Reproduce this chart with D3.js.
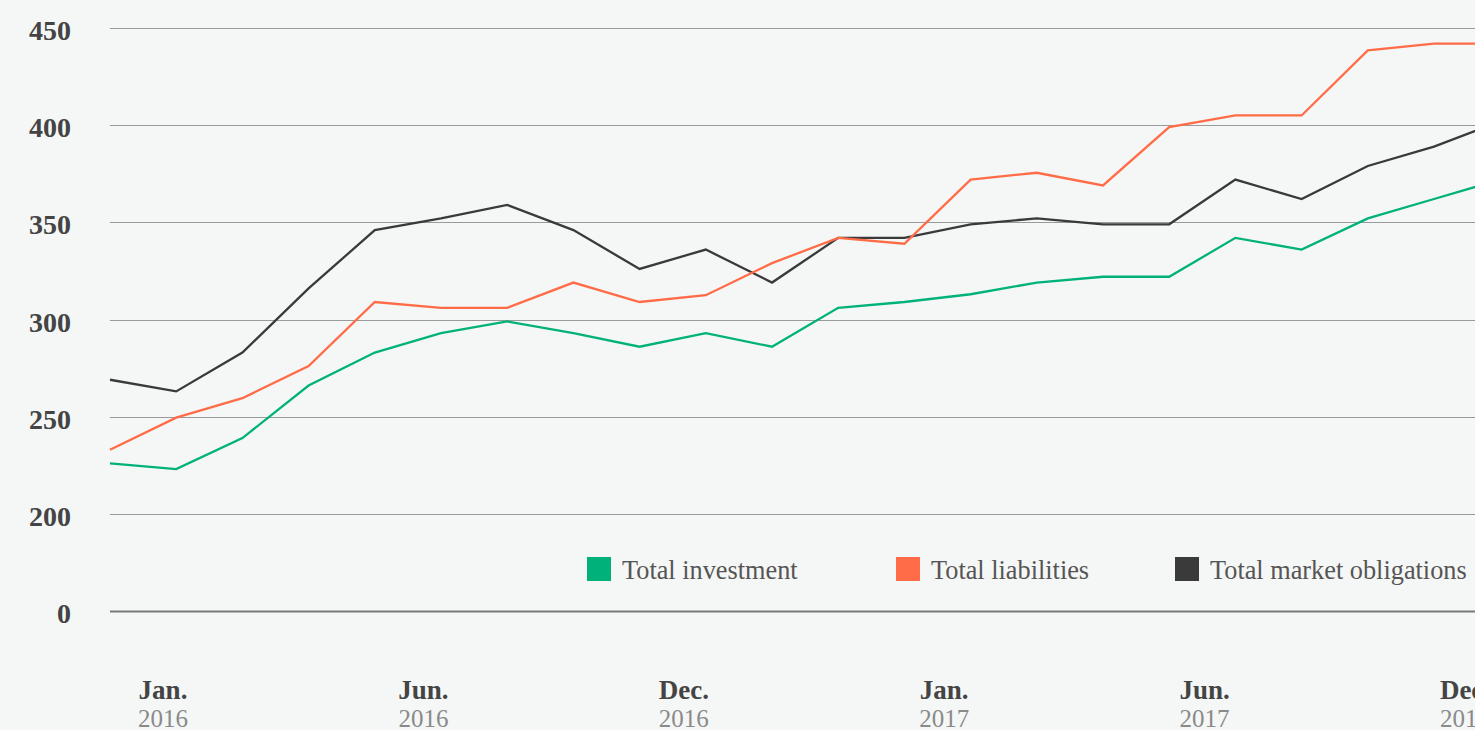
<!DOCTYPE html>
<html>
<head>
<meta charset="utf-8">
<script src="https://cdn.jsdelivr.net/npm/d3@7/dist/d3.min.js"></script>
<style>
  html, body { margin: 0; padding: 0; background: #f5f7f6; overflow: hidden; }
  svg { display: block; }
</style>
</head>
<body>
<svg id="chart" width="1475" height="730"></svg>
<script>
// ---- Data ----
const periods = d3.range(22); // observation index
const totalInvestment = [226, 223, 239, 266, 283, 293, 299, 293, 286, 293, 286, 306, 309, 313, 319, 322, 322, 342, 336, 352, 362, 372];
const totalLiabilities = [233, 249.5, 259.5, 276, 309, 306, 306, 319, 309, 312.5, 329, 342, 339, 372, 375.5, 369, 399, 405, 405, 438.5, 442, 442];
const totalMarketObligations = [269, 263, 283, 316, 346, 352, 359, 346, 326, 336, 319, 342, 342, 349, 352, 349, 349, 372, 362, 379, 389, 402];
const yTickValues = [150, 200, 250, 300, 350, 400, 450];
const yTickLabels = ["0", "200", "250", "300", "350", "400", "450"];
const xMonthLabels = ["Jan.", "Jun.", "Dec.", "Jan.", "Jun.", "Dec."];
const xYearLabels = ["2016", "2016", "2016", "2017", "2017", "2017"];
const seriesNames = ["Total investment", "Total liabilities", "Total market obligations"];
const seriesColors = ["#00b27a", "#ff6c47", "#3a3a3a"];

const seriesValues = [totalInvestment, totalLiabilities, totalMarketObligations];

// ---- Layout ----
const W = 1475, H = 730;
const svg = d3.select("#chart");
svg.append("rect").attr("width", W).attr("height", H).attr("fill", "#f5f7f6");

const x = d3.scaleLinear().domain([0, 20]).range([110, 1434]);
const y = d3.scaleLinear().domain([150, 450]).range([611, 28]);

// gridlines + y labels
const yAxis = svg.append("g");
yTickValues.forEach((v, i) => {
  const yy = Math.round(y(v)) + 0.5;
  yAxis.append("line")
    .attr("x1", 110).attr("x2", W)
    .attr("y1", yy).attr("y2", yy)
    .attr("stroke", v === 150 ? "#7a7a7a" : "#9a9a9a")
    .attr("stroke-width", v === 150 ? 2 : 1);
  yAxis.append("text")
    .attr("x", 71).attr("y", y(v) + 12)
    .attr("text-anchor", "end")
    .attr("font-family", "'Liberation Serif', serif")
    .attr("font-weight", "bold")
    .attr("font-size", 28)
    .attr("fill", "#444")
    .text(yTickLabels[i]);
});

// x labels
const xl = d3.scalePoint().domain(d3.range(xMonthLabels.length)).range([163, 1465]);
const xAxis = svg.append("g");
xMonthLabels.forEach((m, i) => {
  xAxis.append("text")
    .attr("x", xl(i)).attr("y", 699)
    .attr("text-anchor", "middle")
    .attr("font-family", "'Liberation Serif', serif")
    .attr("font-weight", "bold")
    .attr("font-size", 27)
    .attr("fill", "#444")
    .text(m);
  xAxis.append("text")
    .attr("x", xl(i)).attr("y", 727)
    .attr("text-anchor", "middle")
    .attr("font-family", "'Liberation Serif', serif")
    .attr("font-size", 25)
    .attr("fill", "#8a8a8a")
    .text(xYearLabels[i]);
});

// lines
const line = d3.line().x((d, i) => x(periods[i])).y(d => y(d));
const order = [2, 1, 0];
svg.append("g").selectAll("path")
  .data(order)
  .join("path")
  .attr("d", k => line(seriesValues[k]))
  .attr("fill", "none")
  .attr("stroke", k => seriesColors[k])
  .attr("stroke-width", 2.3)
  .attr("stroke-linejoin", "miter");

// legend
const legendX = [587, 896, 1175];
const legend = svg.append("g");
seriesNames.forEach((n, i) => {
  legend.append("rect")
    .attr("x", legendX[i]).attr("y", 557)
    .attr("width", 24).attr("height", 24)
    .attr("fill", seriesColors[i]);
  legend.append("text")
    .attr("x", legendX[i] + 35).attr("y", 579)
    .attr("font-family", "'Liberation Serif', serif")
    .attr("font-size", 26.3)
    .attr("fill", "#555")
    .text(n);
});
</script>
</body>
</html>
